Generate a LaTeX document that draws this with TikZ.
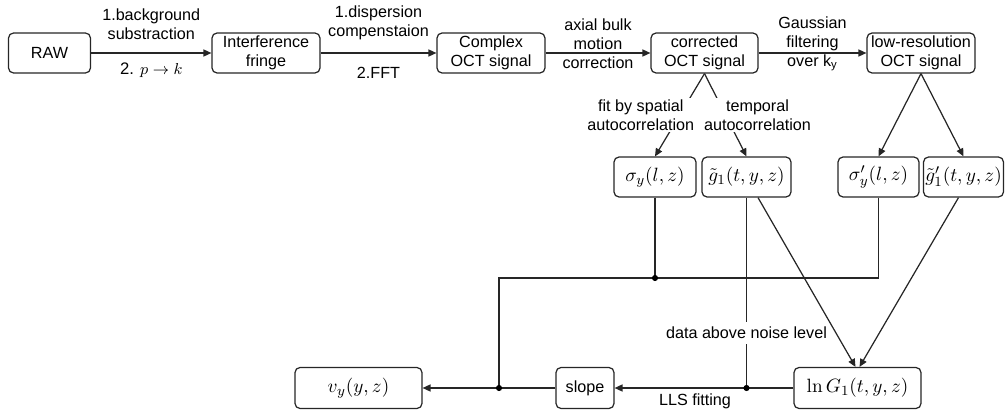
\documentclass[tikz,border=0pt]{standalone}
\usepackage[no-math]{fontspec}
\setmainfont{Liberation Sans}
\usetikzlibrary{arrows.meta,positioning}

\begin{document}
\begin{tikzpicture}[
    x=0.02cm, y=-0.02cm,
    block/.style={rectangle, draw=black!85, line width=0.7pt, rounded corners=1mm, fill=white,
                  minimum height=0.8cm, align=center, inner sep=1pt, font=\fontsize{9.2}{10.8}\selectfont},
    mblock/.style={block, font=\fontsize{11}{13}\selectfont},
    lbl/.style={align=center, inner sep=1pt, font=\fontsize{9.2}{10.8}\selectfont},
    flow/.style={draw=black!85, line width=0.7pt, -{Triangle[length=4.5pt,width=4pt]}},
    wire/.style={draw=black!85, line width=0.7pt},
    joint/.style={circle, fill=black, inner sep=0pt, minimum size=3.5pt}
]
\useasboundingbox (0,0) rectangle (1008,412);

% Top row: processing chain
\node[block, minimum width=1.64cm] (raw) at (49.5,53) {RAW};
\node[block, minimum width=2.16cm] (fringe) at (266,53) {Interference\\fringe};
\node[block, minimum width=2.16cm] (complex) at (491,53) {Complex\\OCT signal};
\node[block, minimum width=2.14cm] (corrected) at (704.5,53) {corrected\\OCT signal};
\node[block, minimum width=2.16cm] (lowres) at (921,53) {low-resolution\\OCT signal};

\draw[flow] (raw) -- node[lbl, above=6pt] {1.background\\substraction}
                     node[lbl, below=4pt, font=\fontsize{9.5}{11}\selectfont] {2. $p\rightarrow k$} (fringe);
\draw[flow] (fringe) -- node[lbl, above=6pt] {1.dispersion\\compenstaion}
                        node[lbl, below=7pt] {2.FFT} (complex);
\draw[flow] (complex) -- node[lbl, yshift=0.18cm] {axial bulk\\motion\\correction} (corrected);
\draw[flow] (corrected) -- node[lbl, yshift=0.18cm] {Gaussian\\filtering\\over k\textsubscript{y}} (lowres);

% Middle row: correlation estimates
\node[mblock, minimum width=1.64cm] (sigma) at (655,177) {$\sigma_y(l,z)$};
\node[mblock, minimum width=1.78cm] (gone) at (746.5,177) {$\tilde{g}_1(t,y,z)$};
\node[mblock, minimum width=1.62cm] (sigmap) at (878.5,177) {$\sigma'_y(l,z)$};
\node[mblock, minimum width=1.58cm] (gonep) at (963.5,177) {$\tilde{g}'_1(t,y,z)$};

\draw[flow] (corrected.south) -- node[lbl, fill=white, xshift=-0.78cm] {fit by spatial\\autocorrelation} (sigma.north);
\draw[flow] (corrected.south) -- node[lbl, fill=white, xshift=0.64cm] {temporal\\autocorrelation} (gone.north);
\draw[flow] (lowres.south) -- (sigmap.north);
\draw[flow] (lowres.south) -- (gonep.north);

% Bottom row: fitting and velocity
\node[mblock, minimum width=2.54cm, minimum height=0.82cm] (lng) at (857.5,388) {$\ln G_1(t,y,z)$};
\node[block, minimum width=1.16cm, minimum height=0.82cm] (slope) at (585,388) {slope};
\node[mblock, minimum width=2.54cm, minimum height=0.82cm] (vy) at (358.5,388) {$v_y(y,z)$};

\coordinate (jsig) at (655,278);
\coordinate (jmid) at (499,278);
\coordinate (jout) at (499,388);
\coordinate (jfit) at (746.5,388);

\draw[wire] (sigmap.south) |- (jmid) -- (jout);
\draw[wire] (sigma.south) -- (jsig);
\draw[wire] (gone.south) -- node[lbl, fill=white, pos=0.71, inner sep=3pt] {data above noise level} (jfit);
\draw[flow] ([xshift=0.23cm]gone.south) -- ([xshift=-0.04cm]lng.north);
\draw[flow] ([xshift=-0.1cm]gonep.south) -- ([xshift=0.04cm]lng.north);
\draw[flow] (lng) -- node[lbl, below=2pt, xshift=-0.18cm] {LLS fitting} (slope);
\draw[flow] (slope) -- (vy);

\node[joint] at (jsig) {};
\node[joint] at (jout) {};
\node[joint] at (jfit) {};

\end{tikzpicture}
\end{document}
